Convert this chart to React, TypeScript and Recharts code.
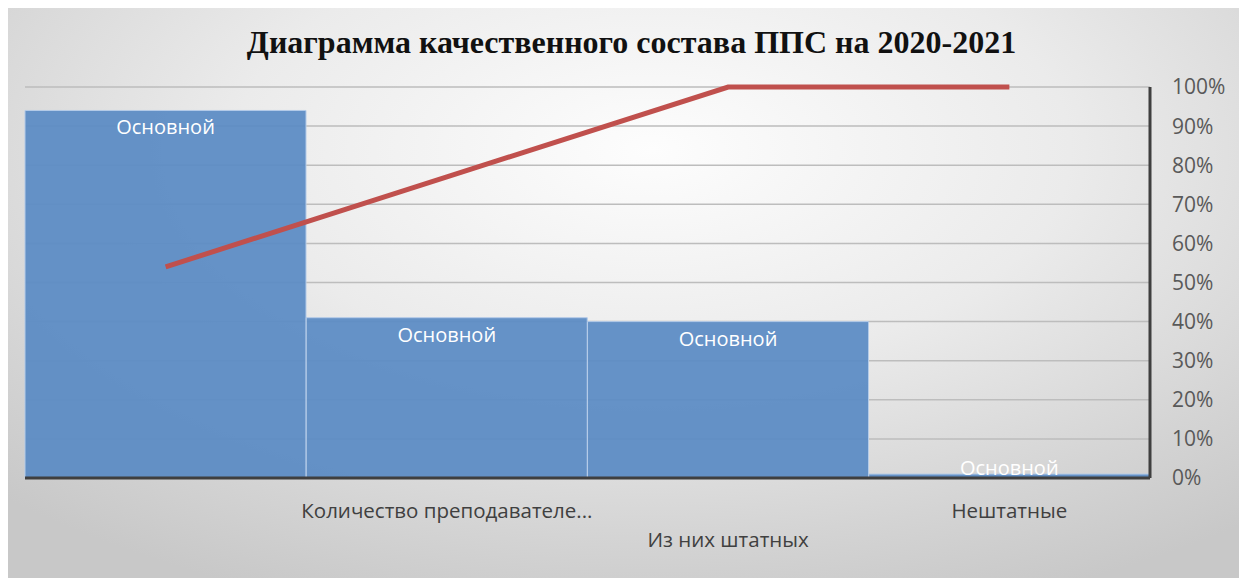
import React from "react";
import {
  Bar,
  CartesianGrid,
  ComposedChart,
  LabelList,
  Line,
  XAxis,
  YAxis,
} from "recharts";

const categories = ["", "Количество преподавателе...", "Из них штатных", "Нештатные"];
const barValues = [94, 41, 40, 1];
const linePercents = [54, 77, 100, 100];
const barLabel = "Основной";
const percentTicks = [0, 10, 20, 30, 40, 50, 60, 70, 80, 90, 100];

const data = categories.map((name, i) => ({
  name,
  count: barValues[i],
  share: linePercents[i],
}));

const W = 1239;
const H = 570;

function CategoryTick(props: any) {
  const { x, y, payload, index } = props;
  const staggered = index === 2;
  return (
    <text
      x={x}
      y={y + (staggered ? 61 : 32)}
      textAnchor="middle"
      fill="#404040"
      fontSize={20.5}
      fontFamily="Open Sans"
    >
      {payload.value}
    </text>
  );
}

function BarTopLabel(props: any) {
  const { x, y, width, height } = props;
  const bottom = y + height;
  const cy = Math.min(y + 24, bottom - 3);
  return (
    <text
      x={x + width / 2}
      y={cy}
      textAnchor="middle"
      fill="#ffffff"
      fontSize={20}
      fontFamily="Open Sans"
    >
      {barLabel}
    </text>
  );
}

export default function App() {
  return (
    <div
      style={{
        position: "relative",
        width: W,
        height: H,
        background:
          "radial-gradient(ellipse 75% 85% at 52% 25%, #fdfdfd 0%, #ebebeb 45%, #d4d4d4 80%, #c8c8c8 100%)",
      }}
    >
      <div
        style={{
          position: "absolute",
          top: 16,
          left: 4,
          width: W,
          textAlign: "center",
          fontFamily: "Liberation Serif",
          fontWeight: "bold",
          fontSize: 32,
          color: "#111",
        }}
      >
        Диаграмма качественного состава ППС на 2020-2021
      </div>
      <ComposedChart
        width={W}
        height={H}
        data={data}
        margin={{ top: 79, right: 17, left: 17, bottom: 40 }}
        barCategoryGap={0}
        barGap={0}
      >
        <CartesianGrid
          yAxisId="right"
          vertical={false}
          stroke="#bdbdbd"
          strokeWidth={1.5}
        />
        <XAxis
          dataKey="name"
          axisLine={{ stroke: "#3f3f3f", strokeWidth: 3 }}
          tickLine={false}
          tick={<CategoryTick />}
          interval={0}
          height={60}
        />
        <YAxis yAxisId="left" domain={[0, 100]} hide />
        <YAxis
          yAxisId="right"
          orientation="right"
          domain={[0, 100]}
          ticks={percentTicks}
          tickFormatter={(v) => `${v}%`}
          axisLine={{ stroke: "#3f3f3f", strokeWidth: 3 }}
          tickLine={false}
          tickMargin={16}
          width={80}
          tick={{ fill: "#595959", fontSize: 21, fontFamily: "Open Sans" }}
        />
        <Bar
          yAxisId="left"
          dataKey="count"
          fill="#5a8bc4"
          fillOpacity={0.93}
          stroke="#b4cbe8"
          strokeWidth={1}
          isAnimationActive={false}
        >
          <LabelList dataKey="count" content={<BarTopLabel />} />
        </Bar>
        <Line
          yAxisId="right"
          dataKey="share"
          type="linear"
          stroke="#c0504d"
          strokeWidth={5}
          dot={false}
          isAnimationActive={false}
        />
      </ComposedChart>
    </div>
  );
}
